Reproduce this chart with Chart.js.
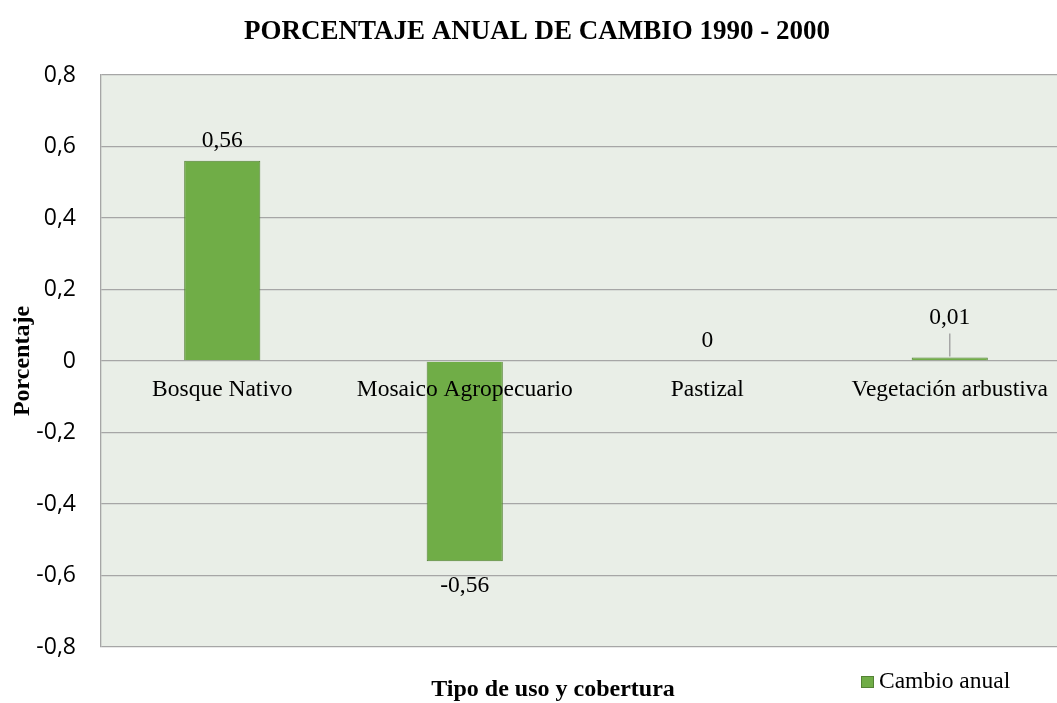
<!DOCTYPE html>
<html>
<head>
<meta charset="utf-8">
<script src="https://cdn.jsdelivr.net/npm/chart.js@4"></script>
<style>
  html, body { margin: 0; padding: 0; background: #ffffff; overflow: hidden; }
  #wrap { width: 1072px; height: 703px; }
</style>
</head>
<body>
<div id="wrap"><canvas id="c" width="1072" height="703"></canvas></div>
<script>
const categories = ["Bosque Nativo", "Mosaico Agropecuario", "Pastizal", "Vegetación arbustiva"];
const cambioAnual = [0.56, -0.56, 0, 0.01];
const seriesName = "Cambio anual";
const yTickValues = [-0.8, -0.6, -0.4, -0.2, 0, 0.2, 0.4, 0.6, 0.8];
const chartTitle = "PORCENTAJE ANUAL DE CAMBIO 1990 - 2000";
const xTitle = "Tipo de uso y cobertura";
const yTitle = "Porcentaje";

const SERIF = "'Liberation Serif', 'Times New Roman', serif";
const BAR_FILL = "#70AD47";
const BAR_EDGE = "#548235";
const GRID = "#a6a6a6";

function fmt(v) {
  const r = Math.round(v * 100) / 100;
  if (r === 0) return "0";
  return String(r).replace(".", ",");
}

const decor = {
  id: "decor",
  beforeDraw(chart) {
    const { ctx, chartArea: a } = chart;
    ctx.save();
    ctx.fillStyle = "#e9eee7";
    ctx.fillRect(a.left, a.top, a.right - a.left, a.bottom - a.top);
    ctx.restore();
  },
  afterDatasetsDraw(chart) {
    const { ctx } = chart;
    const y = chart.scales.y;
    const x = chart.scales.x;
    const zero = y.getPixelForValue(0);
    ctx.save();
    ctx.fillStyle = "#000";
    ctx.textAlign = "center";
    ctx.textBaseline = "middle";
    ctx.font = "23.5px " + SERIF;
    // category labels along the zero line
    categories.forEach((c, i) => {
      ctx.fillText(c, x.getPixelForValue(i), zero + 29);
    });
    // data labels
    const meta = chart.getDatasetMeta(0);
    meta.data.forEach((bar, i) => {
      const v = cambioAnual[i];
      const txt = fmt(v);
      if (v < 0) {
        ctx.fillText(txt, bar.x, bar.y + 25);
      } else if (v > 0 && v < 0.05) {
        ctx.strokeStyle = GRID;
        ctx.lineWidth = 1.5;
        ctx.beginPath();
        ctx.moveTo(bar.x, bar.y - 1);
        ctx.lineTo(bar.x, bar.y - 24);
        ctx.stroke();
        ctx.fillText(txt, bar.x, bar.y - 40);
      } else {
        ctx.fillText(txt, bar.x, bar.y - 20);
      }
    });
    // chart title
    ctx.font = "bold 27px " + SERIF;
    ctx.fillText(chartTitle, 537, 32);
    // x title
    ctx.font = "bold 24px " + SERIF;
    ctx.fillText(xTitle, 553, 690);
    // y title
    ctx.save();
    ctx.translate(23, 361);
    ctx.rotate(-Math.PI / 2);
    ctx.fillText(yTitle, 0, 0);
    ctx.restore();
    // legend
    ctx.fillStyle = BAR_FILL;
    ctx.fillRect(861, 676, 13, 12);
    ctx.strokeStyle = BAR_EDGE;
    ctx.lineWidth = 1;
    ctx.strokeRect(861.5, 676.5, 12, 11);
    ctx.fillStyle = "#000";
    ctx.textAlign = "left";
    ctx.font = "23.5px " + SERIF;
    ctx.fillText(seriesName, 879, 682);
    ctx.restore();
  }
};

new Chart(document.getElementById("c"), {
  type: "bar",
  data: {
    labels: categories,
    datasets: [{
      label: seriesName,
      data: cambioAnual,
      backgroundColor: BAR_FILL,
      borderColor: BAR_EDGE,
      borderWidth: 1,
      barPercentage: 0.314,
      categoryPercentage: 1.0
    }]
  },
  options: {
    responsive: false,
    devicePixelRatio: 1,
    animation: false,
    layout: { padding: { left: 0, top: 75, right: 1, bottom: 56 } },
    plugins: {
      legend: { display: false },
      title: { display: false },
      tooltip: { enabled: false }
    },
    scales: {
      x: { display: false, offset: true },
      y: {
        min: -0.8,
        max: 0.8,
        afterFit(s) { s.width = 101; },
        afterBuildTicks(s) { s.ticks = yTickValues.map(v => ({ value: v })); },
        ticks: {
          padding: 25,
          color: "#000",
          font: { family: "'Open Sans', sans-serif", size: 23 },
          callback: v => fmt(v)
        },
        grid: { color: GRID, lineWidth: 1.3, drawTicks: false },
        border: { color: GRID, width: 1.3 }
      }
    }
  },
  plugins: [decor]
});
</script>
</body>
</html>
